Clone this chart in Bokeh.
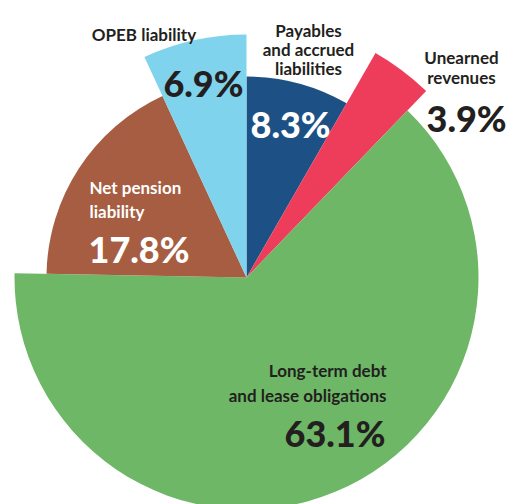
import math
from bokeh.plotting import figure
from bokeh.models import Range1d
from bokeh.core.properties import value
from bokeh.embed import file_html
from bokeh.resources import INLINE

# ---- data ----
categories = ["Payables and accrued liabilities", "Unearned revenues",
              "Long-term debt and lease obligations", "Net pension liability",
              "OPEB liability"]
label_lines = [["Payables", "and accrued", "liabilities"],
               ["Unearned", "revenues"],
               ["Long-term debt", "and lease obligations"],
               ["Net pension", "liability"],
               ["OPEB liability"]]
values = [8.3, 3.9, 63.1, 17.8, 6.9]

# ---- style ----
colors = ["#1d5186", "#ee3d5a", "#6db766", "#a65d41", "#80d3ec"]
radii = [201, 259, 232, 200, 243]
DARK = "#231f20"
FONT = "Lato"
BIGFONT = "Lato Black"

W, H = 513, 504
IMG_H = 504
def Y(y_img):
    return IMG_H - y_img

cx, cy = 246, Y(277)

# label layout: (x, first baseline (image px), line gap, align, color,
#                pct x, pct baseline, pct align, pct color, label size)
layout = [
    (308, 30, 19, "center", DARK, 250, 123, "left", "white", "17px"),
    (461, 57, 20, "center", DARK, 426, 117, "left", DARK, "17px"),
    (386, 370, 25, "right", DARK, 385, 432, "right", DARK, "17px"),
    (89, 187, 24, "left", "white", 88, 248, "left", "white", "17px"),
    (143.5, 34, 19, "center", DARK, 243, 82, "right", DARK, "17px"),
]

p = figure(width=W, height=H, output_backend="svg", toolbar_location=None,
           x_axis_type=None, y_axis_type=None, min_border=0,
           x_range=Range1d(0, W), y_range=Range1d(IMG_H - H, IMG_H))
p.outline_line_color = None
p.grid.visible = False
p.background_fill_color = "white"
p.border_fill_color = "white"

total = sum(values)
cum = 0.0
starts, ends = [], []
for v in values:
    starts.append(math.pi / 2 - 2 * math.pi * cum / total)
    cum += v
    ends.append(math.pi / 2 - 2 * math.pi * cum / total)

p.wedge(x=[cx] * len(values), y=[cy] * len(values), radius=radii,
        start_angle=starts, end_angle=ends, direction="clock",
        fill_color=colors, line_color=None)

for lines, v, lay in zip(label_lines, values, layout):
    lx, lb, gap, align, col, px, pb, palign, pcol, lsize = lay
    p.text(x=[lx] * len(lines), y=[Y(lb + i * gap) for i in range(len(lines))],
           text=lines, text_align=align, text_baseline="alphabetic",
           text_color=col, text_font=value(FONT), text_font_size=lsize,
           text_font_style="bold")
    p.text(x=[px], y=[Y(pb)], text=[f"{v}%"], text_align=palign,
           text_baseline="alphabetic", text_color=pcol, text_font=value(BIGFONT),
           text_font_size="36px", text_font_style="bold")

open("out.html", "w").write(file_html(p, INLINE))
